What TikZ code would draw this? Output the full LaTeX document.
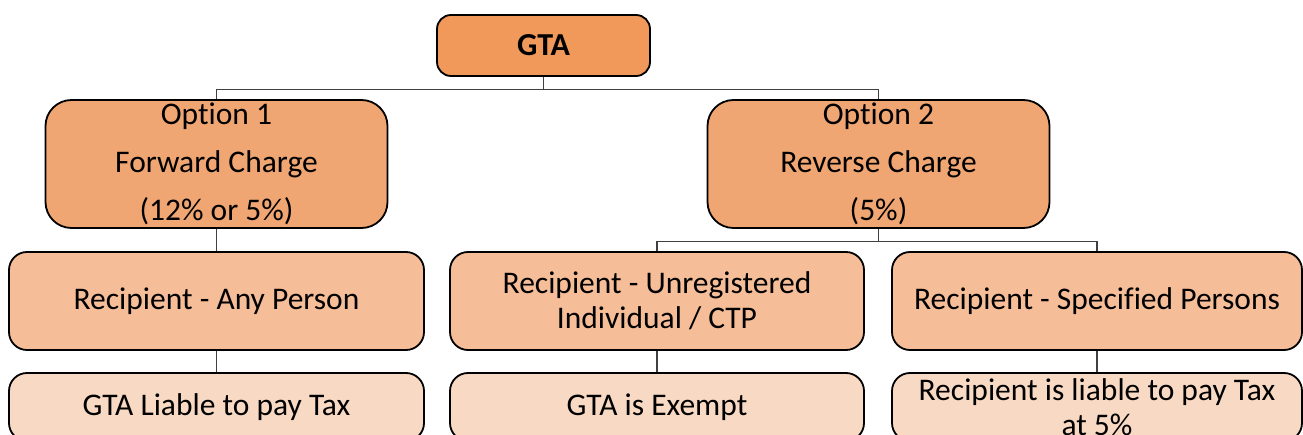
\documentclass[tikz,border=0pt]{standalone}
\usepackage{fontspec}
\setmainfont{Carlito}[Ligatures=NoCommon]
\definecolor{cgta}{HTML}{F0995A}
\definecolor{copt}{HTML}{F0A672}
\definecolor{cmid}{HTML}{F5BD98}
\definecolor{cbot}{HTML}{F8D9C3}
\definecolor{cline}{HTML}{404040}
\begin{document}
\begin{tikzpicture}[x=1pt,y=-1pt,
  box/.style={draw=black, line width=1.8pt, rounded corners=#1, inner sep=0pt, align=center},
  conn/.style={draw=cline, line width=1.2pt},
  txt/.style={font=\fontsize{31.5}{35}\selectfont}]
\useasboundingbox (0,0) rectangle (1303,435);
% top
\node[box=14pt, fill=cgta, minimum width=213pt, minimum height=61pt, font=\fontsize{32}{36}\selectfont\bfseries] (gta) at (543.5,45.5) {GTA};
% options
\node[box=26pt, fill=copt, minimum width=342pt, minimum height=128pt, font=\fontsize{31.5}{48}\selectfont] (opt1) at (216.5,164) {Option 1\\Forward Charge\\(12\% or 5\%)};
\node[box=26pt, fill=copt, minimum width=342pt, minimum height=128pt, font=\fontsize{31.5}{48}\selectfont] (opt2) at (878.5,164) {Option 2\\Reverse Charge\\(5\%)};
% middle row
\node[box=18pt, fill=cmid, minimum width=415pt, minimum height=98pt, txt] (any) at (216.5,301) {Recipient - Any Person};
\node[box=18pt, fill=cmid, minimum width=414pt, minimum height=98pt, txt] (unreg) at (657,301) {Recipient - Unregistered\\Individual / CTP};
\node[box=18pt, fill=cmid, minimum width=410pt, minimum height=98pt, txt] (spec) at (1097,301) {Recipient - Specified Persons};
% bottom row
\node[box=18pt, fill=cbot, minimum width=415pt, minimum height=68pt, txt] (liable) at (216.5,407) {GTA Liable to pay Tax};
\node[box=18pt, fill=cbot, minimum width=414pt, minimum height=68pt, txt] (exempt) at (657,407) {GTA is Exempt};
\node[box=18pt, fill=cbot, minimum width=410pt, minimum height=68pt, txt] (rliable) at (1097,407) {Recipient is liable to pay Tax\\at 5\%};
% connectors
\draw[conn] (gta.south) -- ++(0,12.5) coordinate (j1);
\draw[conn] (opt1.north) |- (j1) -| (opt2.north);
\draw[conn] (opt1.south) -- (opt1.south |- any.north);
\draw[conn] (opt2.south) -- ++(0,13) coordinate (j2);
\draw[conn] (unreg.north) |- (j2) -| (spec.north);
\draw[conn] (any.south) -- (liable.north);
\draw[conn] (unreg.south) -- (exempt.north);
\draw[conn] (spec.south) -- (rliable.north);
\end{tikzpicture}
\end{document}
